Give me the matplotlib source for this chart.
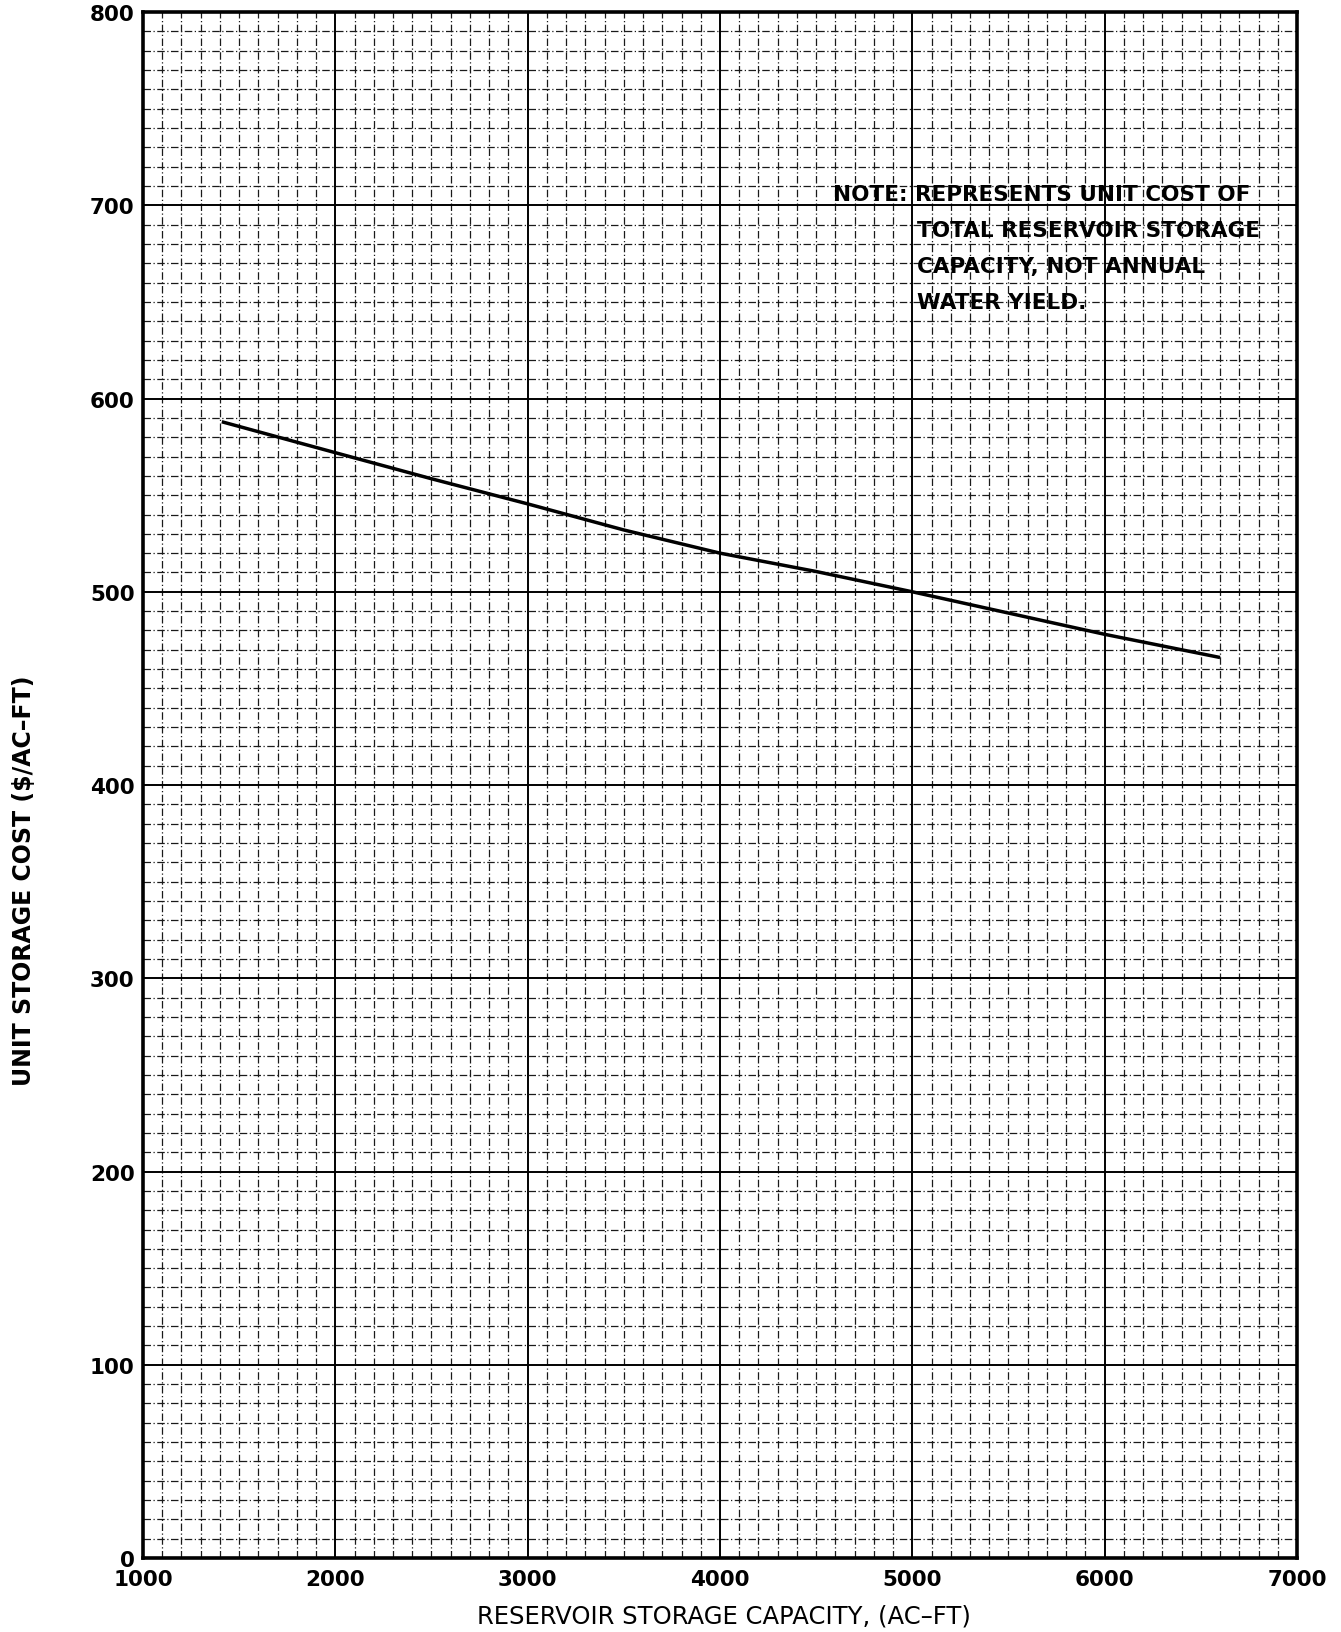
import matplotlib.pyplot as plt
from matplotlib.ticker import MultipleLocator

# values
capacity = [1410, 2000, 2500, 3000, 3500, 4000, 4500, 5000, 5500, 6000, 6600]
unit_cost = [588, 572, 558.5, 545.5, 532, 520, 510.5, 500, 489, 478, 466]

x_ticks = [1000, 2000, 3000, 4000, 5000, 6000, 7000]
y_ticks = [0, 100, 200, 300, 400, 500, 600, 700, 800]

note_lines = ['NOTE: REPRESENTS UNIT COST OF',
              'TOTAL RESERVOIR STORAGE',
              'CAPACITY, NOT ANNUAL',
              'WATER YIELD.']

plt.rcParams['font.family'] = ['DejaVu Sans']

fig = plt.figure(figsize=(13.41, 16.33), dpi=100)
ax = fig.add_axes([0.1066, 0.0453, 0.8606, 0.9467])

ax.plot(capacity, unit_cost, color='black', linewidth=2.5, solid_capstyle='butt')

ax.set_xlim(1000, 7000)
ax.set_ylim(0, 800)
ax.set_xticks(x_ticks)
ax.set_yticks(y_ticks)
ax.xaxis.set_minor_locator(MultipleLocator(100))
ax.yaxis.set_minor_locator(MultipleLocator(10))

# graph paper look
ax.grid(which='major', color='black', linewidth=1.4, linestyle='-')
ax.grid(which='minor', color='0.1', linewidth=0.9, linestyle=(0, (6, 2, 1, 2)))
ax.set_axisbelow(True)

ax.tick_params(which='both', length=0)
ax.tick_params(axis='x', pad=8, labelsize=15.5)
ax.tick_params(axis='y', pad=6, labelsize=15.5)
for lbl in ax.get_xticklabels() + ax.get_yticklabels():
    lbl.set_fontweight('bold')

for s in ax.spines.values():
    s.set_linewidth(2.6)
    s.set_color('black')

ax.set_xlabel('RESERVOIR STORAGE CAPACITY, (AC\u2013FT)', fontsize=17.5)
ax.xaxis.set_label_coords(0.503, -0.0375)
ax.xaxis.label.set_va('center')
ax.set_ylabel('UNIT STORAGE COST ($/AC\u2013FT)', fontsize=17, fontweight='bold')
ax.yaxis.set_label_coords(-0.103, 0.439)
ax.yaxis.label.set_va('center')

# note in upper right
ax.text(0.598, 0.8825, note_lines[0], transform=ax.transAxes, fontsize=15.5,
        fontweight='bold', va='center', ha='left')
for i, line in enumerate(note_lines[1:]):
    ax.text(0.671, 0.8825 - (i + 1) * 0.0233, line, transform=ax.transAxes,
            fontsize=15.5, fontweight='bold', va='center', ha='left')

fig.savefig('out.png', dpi=100)
